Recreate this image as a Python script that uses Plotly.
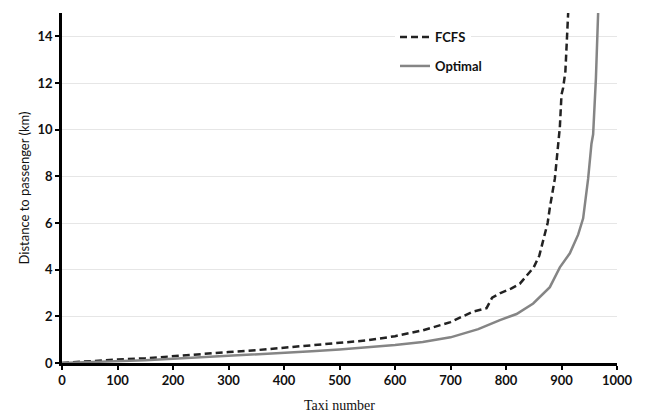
import plotly.graph_objects as go

fcfs_x = [0, 30, 60, 100, 150, 200, 250, 300, 350, 400, 450, 500, 550, 600, 650, 700,
          740, 765, 775, 790, 810, 825, 840, 850, 860, 867, 875, 879, 888, 897, 900, 903, 907, 912]
fcfs_y = [0, 0.05, 0.1, 0.15, 0.2, 0.3, 0.37, 0.47, 0.55, 0.65, 0.75, 0.85, 0.97, 1.15, 1.4, 1.75,
          2.2, 2.35, 2.8, 3.0, 3.2, 3.4, 3.8, 4.1, 4.6, 5.25, 6.0, 6.66, 7.9, 10.1, 11.5, 11.8, 12.5, 15]

opt_x = [0, 50, 100, 150, 200, 250, 300, 350, 400, 450, 500, 550, 600, 650, 700, 750,
         789, 819, 849, 879, 897, 915, 930, 939, 948, 954, 957, 962, 966]
opt_y = [0, 0.03, 0.08, 0.12, 0.18, 0.24, 0.3, 0.36, 0.43, 0.5, 0.58, 0.66, 0.77, 0.9, 1.1, 1.45,
         1.84, 2.1, 2.55, 3.25, 4.1, 4.7, 5.5, 6.2, 7.9, 9.4, 9.8, 12.2, 15]

x_ticks = [0, 100, 200, 300, 400, 500, 600, 700, 800, 900, 1000]
y_ticks = [0, 2, 4, 6, 8, 10, 12, 14]

fig = go.Figure()
fig.add_trace(go.Scatter(x=fcfs_x, y=fcfs_y, mode="lines", name="FCFS", legend="legend",
                         line=dict(color="#222222", width=2.5, dash="7px,4px")))
fig.add_trace(go.Scatter(x=opt_x, y=opt_y, mode="lines", name="Optimal", legend="legend2",
                         line=dict(color="#858585", width=2.5)))

tickfont = dict(family="Lato", size=13, color="#111111", weight="bold")
legfont = dict(family="Lato", size=13, color="#111111", weight="bold")
fig.update_layout(
    width=646, height=415,
    margin=dict(l=62, r=29, t=13, b=52, autoexpand=False),
    paper_bgcolor="white", plot_bgcolor="white",
    showlegend=True,
    legend=dict(x=0.6, y=(363 - 37) / 350, xanchor="left", yanchor="middle",
                bgcolor="white", font=legfont),
    legend2=dict(x=0.6, y=(363 - 66) / 350, xanchor="left", yanchor="middle",
                 bgcolor="white", font=legfont),
    xaxis=dict(range=[0, 1000], tickvals=x_ticks, showgrid=False, automargin=False,
               showline=True, linecolor="black", linewidth=2.5,
               ticks="outside", ticklen=4, tickwidth=2, tickcolor="black",
               tickfont=tickfont, zeroline=False,
               title=dict(text="Taxi number", font=dict(family="Liberation Serif", size=14, color="#111111"),
                          standoff=13)),
    yaxis=dict(range=[0, 15], tickvals=y_ticks, showgrid=True, gridcolor="#e6e6e6", gridwidth=1,
               showline=True, linecolor="black", linewidth=2.5, automargin=False,
               ticks="outside", ticklen=4, tickwidth=2, tickcolor="black",
               tickfont=tickfont, zeroline=False,
               title=dict(text="Distance to passenger (km)", font=dict(family="Lato", size=13, color="#111111"),
                          standoff=6)),
)
fig.write_html("out.html")
